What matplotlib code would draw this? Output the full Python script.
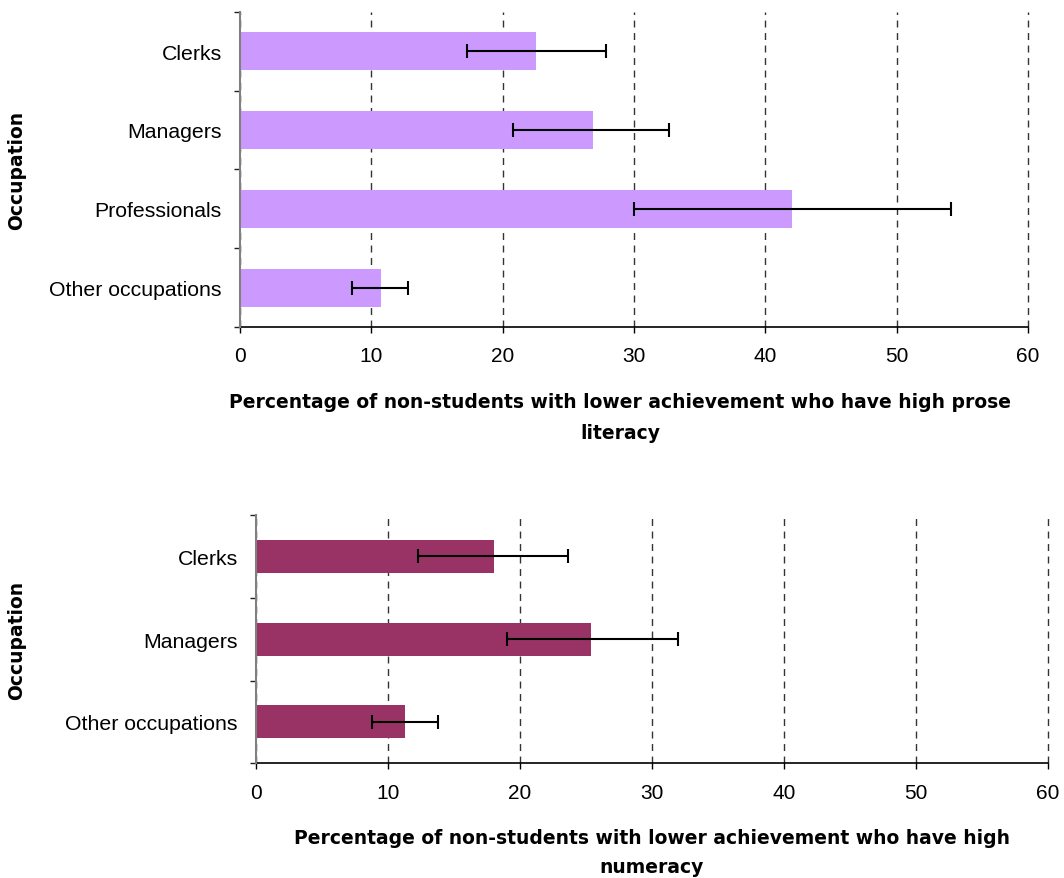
import matplotlib
matplotlib.use("Agg")
import matplotlib.pyplot as plt
import numpy as np

plt.rcParams['font.family'] = ['Liberation Sans', 'DejaVu Sans']

# ---- data ----
top_categories = ["Clerks", "Managers", "Professionals", "Other occupations"]
top_values = [22.5, 26.9, 42.0, 10.7]
top_err_low = [17.3, 20.8, 30.0, 8.5]
top_err_high = [27.9, 32.7, 54.1, 12.8]

bot_categories = ["Clerks", "Managers", "Other occupations"]
bot_values = [18.0, 25.4, 11.3]
bot_err_low = [12.3, 19.0, 8.8]
bot_err_high = [23.6, 32.0, 13.8]

x_ticks = [0, 10, 20, 30, 40, 50, 60]
top_xlabel = "Percentage of non-students with lower achievement who have high prose\nliteracy"
bot_xlabel = "Percentage of non-students with lower achievement who have high\nnumeracy"
ylabel = "Occupation"

W, H = 1064, 879
fig = plt.figure(figsize=(W / 100, H / 100), dpi=100)


def px_axes(left, top, right, bottom):
    return fig.add_axes([left / W, 1 - bottom / H, (right - left) / W, (bottom - top) / H])


def draw(ax, cats, vals, lo, hi, color, bar_h):
    n = len(cats)
    y = np.arange(n)
    vals = np.array(vals)
    lo = np.array(lo)
    hi = np.array(hi)
    ax.set_axisbelow(True)
    ax.barh(y, vals, height=bar_h, color=color, zorder=2)
    ax.errorbar(vals, y, xerr=[vals - lo, hi - vals], fmt='none', ecolor='black',
                elinewidth=1.5, capsize=4.8, capthick=1.5, zorder=3)
    ax.set_xlim(x_ticks[0], x_ticks[-1])
    ax.set_ylim(n - 0.5, -0.5)
    ax.set_xticks(x_ticks)
    ax.set_xticklabels([str(t) for t in x_ticks], fontsize=15)
    ax.tick_params(axis='x', length=4, width=1, pad=10, direction='out')
    ax.set_yticks(np.arange(n + 1) - 0.5)
    ax.set_yticklabels([])
    ax.tick_params(axis='y', which='major', length=4.5, width=1, color='#222222')
    ax.set_yticks(y, minor=True)
    ax.set_yticklabels(cats, minor=True, fontsize=15.3)
    ax.tick_params(axis='y', which='minor', length=0, pad=13)
    ax.xaxis.grid(True, linestyle=(0, (5, 4)), color='#333333', linewidth=1)
    for gl in ax.get_xgridlines():
        gl.set_clip_on(False)
    for s in ['top', 'right']:
        ax.spines[s].set_visible(False)
    ax.spines['left'].set_color('#808080')
    ax.spines['left'].set_linewidth(1.5)
    ax.spines['left'].set_zorder(4)
    ax.spines['bottom'].set_color('black')
    ax.spines['bottom'].set_linewidth(1.2)


ax1 = px_axes(240, 12.7, 1028, 328)
draw(ax1, top_categories, top_values, top_err_low, top_err_high, '#CC99FF', 0.48)
ax2 = px_axes(256, 516, 1048, 764.3)
draw(ax2, bot_categories, bot_values, bot_err_low, bot_err_high, '#993366', 0.40)

lab_font = dict(family='DejaVu Sans', fontweight='bold', fontsize=13.5)
fig.text(620 / W, 1 - 393 / H, top_xlabel, ha='center', va='top', linespacing=1.8, **lab_font)
fig.text(652 / W, 1 - 829 / H, bot_xlabel, ha='center', va='top', linespacing=1.7, **lab_font)
fig.text(17 / W, 1 - 170 / H, ylabel, ha='center', va='center', rotation=90, **lab_font)
fig.text(17 / W, 1 - 640 / H, ylabel, ha='center', va='center', rotation=90, **lab_font)

fig.savefig("out.png", dpi=100)
